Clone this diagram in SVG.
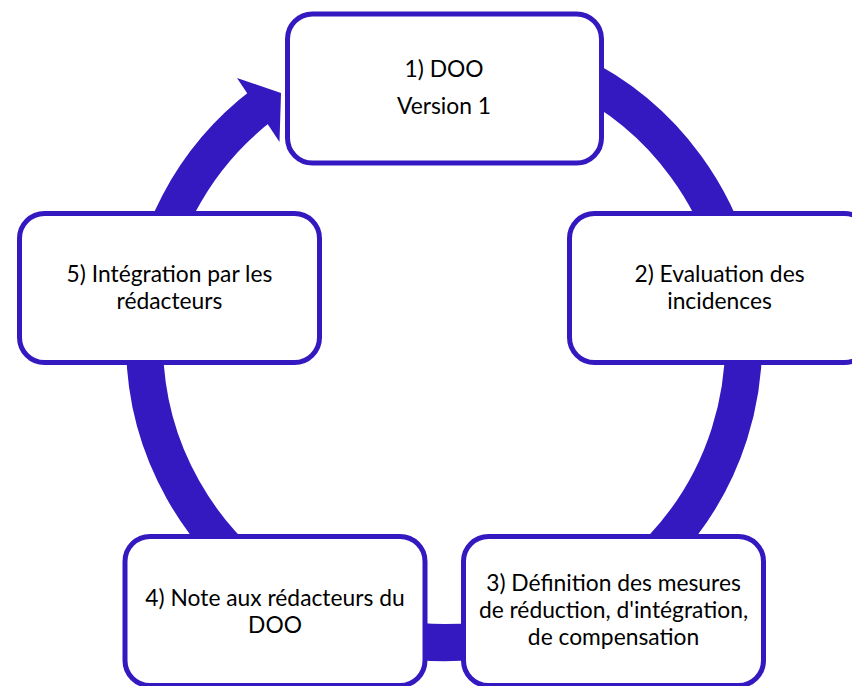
<svg xmlns="http://www.w3.org/2000/svg" width="852" height="686" viewBox="0 0 852 686">
<style>
.node rect{fill:#fff;stroke:#3419c0;stroke-width:5}
.node text{font-family:Lato,"Liberation Sans",sans-serif;font-size:22.8px;fill:#000;text-anchor:middle}
.ring{fill:none;stroke:#3419c0;stroke-width:37}
.head{fill:#3419c0}
</style>
<rect width="852" height="686" fill="#fff"/>
<g id="connectors">
<path class="ring" d="M 444 43.5 A 299.5 299.5 0 1 1 263.8 103.8"/>
<polygon class="head" points="237,78 281,93 279.5,142"/>
</g>
<g id="node1" class="node">
<rect x="287.5" y="14" width="314" height="149" rx="25"/>
<text x="444" y="77">1) DOO</text>
<text x="444" y="114">Version 1</text>
</g>
<g id="node2" class="node">
<rect x="569.5" y="213.5" width="300" height="149" rx="25"/>
<text x="719.5" y="282">2) Evaluation des</text>
<text x="719.5" y="309">incidences</text>
</g>
<g id="node3" class="node">
<rect x="463.5" y="536.5" width="300" height="149" rx="25"/>
<text x="613.5" y="591">3) Définition des mesures</text>
<text x="613.5" y="618">de réduction, d'intégration,</text>
<text x="613.5" y="645">de compensation</text>
</g>
<g id="node4" class="node">
<rect x="125" y="536.5" width="300" height="149" rx="25"/>
<text x="275" y="606">4) Note aux rédacteurs du</text>
<text x="275" y="633">DOO</text>
</g>
<g id="node5" class="node">
<rect x="19.5" y="213.5" width="300" height="149" rx="25"/>
<text x="169.5" y="282">5) Intégration par les</text>
<text x="169.5" y="309">rédacteurs</text>
</g>
</svg>
